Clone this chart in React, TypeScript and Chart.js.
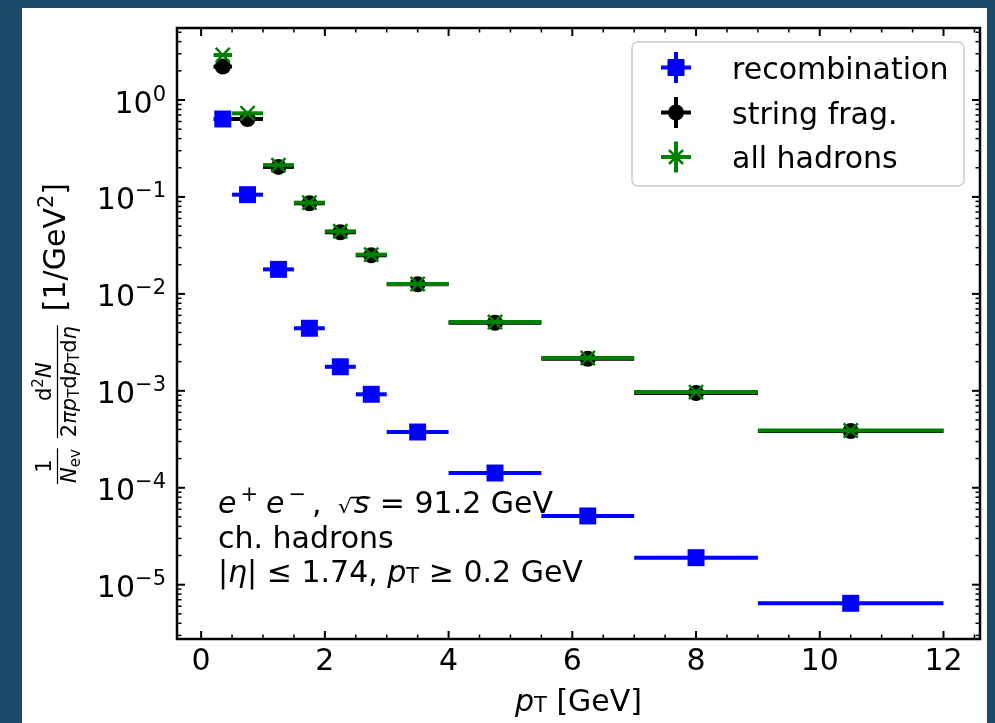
import { useEffect, useRef } from "react";
import { Chart, registerables } from "chart.js";

Chart.register(...registerables);

// Transverse-momentum bins [GeV]
const pTCenter = [0.35, 0.75, 1.25, 1.75, 2.25, 2.75, 3.5, 4.75, 6.25, 8.0, 10.5];
const pTLow = [0.2, 0.5, 1.0, 1.5, 2.0, 2.5, 3.0, 4.0, 5.5, 7.0, 9.0];
const pTHigh = [0.5, 1.0, 1.5, 2.0, 2.5, 3.0, 4.0, 5.5, 7.0, 9.0, 12.0];

// Invariant yields 1/N_ev d2N/(2π pT dpT dη) [1/GeV^2]
const recombination = [0.637, 0.1055, 0.0179, 0.00442, 0.00177, 0.000921, 0.000376, 1.42e-4, 5.12e-5, 1.9e-5, 6.43e-6];
const stringFrag = [2.21, 0.637, 0.204, 0.086, 0.0432, 0.025, 0.01256, 0.00504, 0.00214, 0.00095, 0.000385];
const allHadrons = [2.91, 0.729, 0.213, 0.0873, 0.0442, 0.0254, 0.01265, 0.00512, 0.00218, 0.00097, 0.00039];

const seriesNames = ["recombination", "string frag.", "all hadrons"];
const seriesColors = ["#0000ff", "#000000", "#008000"];

const xMajorTicks = [0, 2, 4, 6, 8, 10, 12];
const xMinorStep = 0.5;
const yDecadeExponents = [0, -1, -2, -3, -4, -5];

const X_MIN = -0.39;
const X_MAX = 12.59;
const Y_MIN = 2.754e-6;
const Y_MAX = 5.53;

const FAMILY = "'DejaVu Sans', sans-serif";
const BIG = 30;
const SMALL = 21;
const FRAC = 21;
const FRAC_SUB = 15;

type Run = { t: string; size?: number; italic?: boolean; dy?: number; gap?: number };

function setFont(ctx: CanvasRenderingContext2D, r: Run) {
  ctx.font = `${r.italic ? "italic " : ""}${r.size ?? BIG}px ${FAMILY}`;
}

function measureRuns(ctx: CanvasRenderingContext2D, runs: Run[]) {
  let w = 0;
  for (const r of runs) {
    setFont(ctx, r);
    w += (r.gap ?? 0) + ctx.measureText(r.t).width;
  }
  return w;
}

function drawRuns(
  ctx: CanvasRenderingContext2D,
  runs: Run[],
  x: number,
  y: number,
  align: "left" | "center" | "right" = "left"
) {
  const w = measureRuns(ctx, runs);
  let cx = align === "left" ? x : align === "center" ? x - w / 2 : x - w;
  for (const r of runs) {
    setFont(ctx, r);
    cx += r.gap ?? 0;
    ctx.fillText(r.t, cx, y + (r.dy ?? 0));
    cx += ctx.measureText(r.t).width;
  }
  return cx;
}

// radical sign with a bar over the radicand; the glyph is sized so its
// top meets the bar and stretched to a fixed ink width
function drawSqrt(ctx: CanvasRenderingContext2D, x: number, baseline: number, radicand: Run) {
  const rise = 16;
  const inkWidth = 15;
  ctx.font = `100px ${FAMILY}`;
  const m = ctx.measureText("\u221A");
  const size = (100 * rise) / Math.max(1, m.actualBoundingBoxAscent);
  ctx.save();
  ctx.font = `${size}px ${FAMILY}`;
  const mm = ctx.measureText("\u221A");
  const w = mm.actualBoundingBoxLeft + mm.actualBoundingBoxRight;
  const sx = inkWidth / Math.max(1, w);
  ctx.translate(x, baseline);
  ctx.scale(sx, 1);
  ctx.fillText("\u221A", mm.actualBoundingBoxLeft, 0);
  ctx.restore();
  const top = baseline - rise;
  const right = x + inkWidth;
  setFont(ctx, radicand);
  const rw = ctx.measureText(radicand.t).width;
  ctx.fillText(radicand.t, right + 1, baseline);
  ctx.fillRect(right - 1.5, top, rw + 3.5, 1.7);
  return right + 1 + rw;
}

const NUM_BASE = -14;
const DEN_BASE = 10.5;
const BAR_Y = -7.5;

function drawFraction(ctx: CanvasRenderingContext2D, x: number, num: Run[], den: Run[]) {
  const wn = measureRuns(ctx, num);
  const wd = measureRuns(ctx, den);
  const w = Math.max(wn, wd) + 2;
  drawRuns(ctx, num, x + w / 2, NUM_BASE, "center");
  drawRuns(ctx, den, x + w / 2, DEN_BASE, "center");
  ctx.fillRect(x, BAR_Y - 0.6, w, 1.2);
  return x + w;
}

function drawYLabel(ctx: CanvasRenderingContext2D, px: number, py: number) {
  ctx.save();
  ctx.translate(px, py);
  ctx.rotate(-Math.PI / 2);
  let x = 0;
  x = drawFraction(
    ctx,
    x,
    [{ t: "1", size: FRAC }],
    [
      { t: "N", size: FRAC, italic: true },
      { t: "ev", size: FRAC_SUB, dy: 4 },
    ]
  );
  x += 10;
  x = drawFraction(
    ctx,
    x,
    [
      { t: "d", size: FRAC },
      { t: "2", size: FRAC_SUB, dy: -8 },
      { t: "N", size: FRAC, italic: true },
    ],
    [
      { t: "2", size: FRAC },
      { t: "\u03C0", size: FRAC, italic: true },
      { t: "p", size: FRAC, italic: true },
      { t: "T", size: FRAC_SUB, dy: 3 },
      { t: "d", size: FRAC },
      { t: "p", size: FRAC, italic: true },
      { t: "T", size: FRAC_SUB, dy: 3 },
      { t: "d", size: FRAC },
      { t: "\u03B7", size: FRAC, italic: true },
    ]
  );
  x += 14;
  drawRuns(ctx, [{ t: "[1/GeV" }, { t: "2", size: SMALL, dy: -12 }, { t: "]" }], x, 0);
  ctx.restore();
}

function drawMarker(ctx: CanvasRenderingContext2D, idx: number, x: number, y: number) {
  ctx.save();
  ctx.fillStyle = seriesColors[idx];
  ctx.strokeStyle = seriesColors[idx];
  if (idx === 0) {
    ctx.fillRect(x - 8.5, y - 8.5, 17, 17);
  } else if (idx === 1) {
    ctx.beginPath();
    ctx.arc(x, y, 8, 0, Math.PI * 2);
    ctx.fill();
  } else {
    ctx.lineWidth = 2.5;
    ctx.beginPath();
    ctx.moveTo(x - 7, y - 7);
    ctx.lineTo(x + 7, y + 7);
    ctx.moveTo(x + 7, y - 7);
    ctx.lineTo(x - 7, y + 7);
    ctx.stroke();
  }
  ctx.restore();
}

const figurePlugin = {
  id: "figure",
  beforeDraw(chart: any) {
    const ctx: CanvasRenderingContext2D = chart.ctx;
    ctx.save();
    ctx.fillStyle = "#1b4a6b";
    ctx.fillRect(0, 0, chart.width, chart.height);
    ctx.fillStyle = "#ffffff";
    ctx.fillRect(22, 8, 965, chart.height - 8);
    ctx.restore();
  },
  beforeDatasetDraw(chart: any, args: any) {
    const ds = chart.data.datasets[args.index];
    const { ctx, chartArea: a } = chart;
    const xs = chart.scales.x;
    const ys = chart.scales.y;
    ctx.save();
    ctx.beginPath();
    ctx.rect(a.left, a.top, a.right - a.left, a.bottom - a.top);
    ctx.clip();
    ctx.strokeStyle = ds.borderColor;
    ctx.lineWidth = 4;
    ctx.lineCap = "butt";
    ds.data.forEach((p: any, i: number) => {
      const y = ys.getPixelForValue(p.y);
      ctx.beginPath();
      ctx.moveTo(xs.getPixelForValue(ds.xErrLow[i]), y);
      ctx.lineTo(xs.getPixelForValue(ds.xErrHigh[i]), y);
      ctx.stroke();
    });
    ctx.restore();
  },
  afterDraw(chart: any) {
    const ctx: CanvasRenderingContext2D = chart.ctx;
    const a = chart.chartArea;
    const xs = chart.scales.x;
    const ys = chart.scales.y;
    ctx.save();
    ctx.strokeStyle = "#000";
    ctx.fillStyle = "#000";
    ctx.textBaseline = "alphabetic";
    ctx.textAlign = "left";

    const seg = (x1: number, y1: number, x2: number, y2: number, w: number) => {
      ctx.lineWidth = w;
      ctx.beginPath();
      ctx.moveTo(x1, y1);
      ctx.lineTo(x2, y2);
      ctx.stroke();
    };

    // x ticks, inward on bottom and top
    const nMinor = Math.round((X_MAX - X_MIN) / xMinorStep) + 2;
    const start = Math.ceil(X_MIN / xMinorStep) * xMinorStep;
    for (let k = 0; k < nMinor; k++) {
      const v = start + k * xMinorStep;
      if (v > X_MAX) break;
      const major = xMajorTicks.includes(v);
      const len = major ? 8 : 4.5;
      const w = major ? 2 : 1.5;
      const px = xs.getPixelForValue(v);
      seg(px, a.bottom, px, a.bottom - len, w);
      seg(px, a.top, px, a.top + len, w);
    }
    // y ticks (log), inward on left and right
    for (let e = Math.floor(Math.log10(Y_MIN)); e <= Math.ceil(Math.log10(Y_MAX)); e++) {
      for (let m = 1; m <= 9; m++) {
        const v = m * Math.pow(10, e);
        if (v < Y_MIN || v > Y_MAX) continue;
        const major = m === 1;
        const len = major ? 8 : 4.5;
        const w = major ? 2 : 1.5;
        const py = ys.getPixelForValue(v);
        seg(a.left, py, a.left + len, py, w);
        seg(a.right, py, a.right - len, py, w);
      }
    }
    // frame
    ctx.lineWidth = 2.5;
    ctx.strokeRect(a.left, a.top, a.right - a.left, a.bottom - a.top);

    // x tick labels
    for (const v of xMajorTicks) {
      drawRuns(ctx, [{ t: String(v) }], xs.getPixelForValue(v), a.bottom + 31, "center");
    }
    // y tick labels 10^e
    for (const e of yDecadeExponents) {
      const py = ys.getPixelForValue(Math.pow(10, e));
      const exp = e === 0 ? "0" : "\u2212" + String(-e);
      drawRuns(ctx, [{ t: "10" }, { t: exp, size: SMALL, dy: -12 }], a.left - 11, py + 12.5, "right");
    }

    // axis titles
    drawRuns(
      ctx,
      [{ t: "p", italic: true }, { t: "T", size: SMALL, dy: 1 }, { t: " [GeV]" }],
      (a.left + a.right) / 2,
      711,
      "center"
    );
    drawYLabel(ctx, 65, 484);

    // annotation
    let x = drawRuns(
      ctx,
      [
        { t: "e", italic: true },
        { t: "+", size: SMALL, dy: -12, gap: 4 },
        { t: "e", italic: true, gap: 8 },
        { t: "\u2212", size: SMALL, dy: -12, gap: 4 },
        { t: ",", gap: 6 },
      ],
      218,
      512.7
    );
    x = drawSqrt(ctx, x + 16, 512.7, { t: "s", italic: true });
    drawRuns(ctx, [{ t: " = 91.2 GeV" }], x + 1, 512.7);
    drawRuns(ctx, [{ t: "ch. hadrons" }], 218, 548);
    drawRuns(
      ctx,
      [
        { t: "|" },
        { t: "\u03B7", italic: true },
        { t: "|" },
        { t: " \u2264 1.74, " },
        { t: "p", italic: true },
        { t: "T", size: SMALL, dy: 1 },
        { t: " \u2265 0.2 GeV" },
      ],
      218,
      581.7
    );

    // legend
    ctx.fillStyle = "rgba(255,255,255,0.8)";
    ctx.strokeStyle = "#cccccc";
    ctx.lineWidth = 1.5;
    ctx.beginPath();
    (ctx as any).roundRect(632, 42, 332, 144, 6);
    ctx.fill();
    ctx.stroke();
    const rows = [67.5, 112.5, 157];
    seriesNames.forEach((name, i) => {
      const cy = rows[i];
      const cx = 676;
      ctx.strokeStyle = seriesColors[i];
      seg(cx - 15, cy, cx + 15, cy, 4);
      seg(cx, cy - 15.5, cx, cy + 15.5, 4);
      drawMarker(ctx, i, cx, cy);
      ctx.fillStyle = "#000";
      drawRuns(ctx, [{ t: name }], 732, cy + 11);
    });
    ctx.restore();
  },
};

const toPoints = (vals: number[]) => pTCenter.map((x, i) => ({ x, y: vals[i] }));

export default function App() {
  const ref = useRef<HTMLCanvasElement>(null);
  useEffect(() => {
    const canvas = ref.current!;
    const chart = new Chart(canvas, {
      type: "scatter",
      data: {
        datasets: [
          {
            label: seriesNames[0],
            data: toPoints(recombination),
            pointStyle: "rect",
            pointRadius: 12,
            pointHoverRadius: 12,
            backgroundColor: seriesColors[0],
            borderColor: seriesColors[0],
            borderWidth: 0,
            order: 3,
            xErrLow: pTLow,
            xErrHigh: pTHigh,
          } as any,
          {
            label: seriesNames[1],
            data: toPoints(stringFrag),
            pointStyle: "circle",
            pointRadius: 8,
            pointHoverRadius: 8,
            backgroundColor: seriesColors[1],
            borderColor: seriesColors[1],
            borderWidth: 0,
            order: 2,
            xErrLow: pTLow,
            xErrHigh: pTHigh,
          } as any,
          {
            label: seriesNames[2],
            data: toPoints(allHadrons),
            pointStyle: "crossRot",
            pointRadius: 10,
            pointHoverRadius: 10,
            backgroundColor: seriesColors[2],
            borderColor: seriesColors[2],
            borderWidth: 2.5,
            order: 1,
            xErrLow: pTLow,
            xErrHigh: pTHigh,
          } as any,
        ],
      },
      options: {
        animation: false,
        responsive: false,
        devicePixelRatio: 1,
        events: [],
        layout: { padding: { left: 177, top: 28, right: 15, bottom: 84 } },
        plugins: { legend: { display: false }, tooltip: { enabled: false } },
        scales: {
          x: { type: "linear", display: false, min: X_MIN, max: X_MAX },
          y: { type: "logarithmic", display: false, min: Y_MIN, max: Y_MAX, bounds: "data" } as any,
        },
      },
      plugins: [figurePlugin],
    });
    return () => chart.destroy();
  }, []);
  return (
    <div style={{ position: "fixed", left: 0, top: 0, width: 995, height: 723 }}>
      <canvas ref={ref} width={995} height={723} style={{ display: "block", width: 995, height: 723 }} />
    </div>
  );
}
